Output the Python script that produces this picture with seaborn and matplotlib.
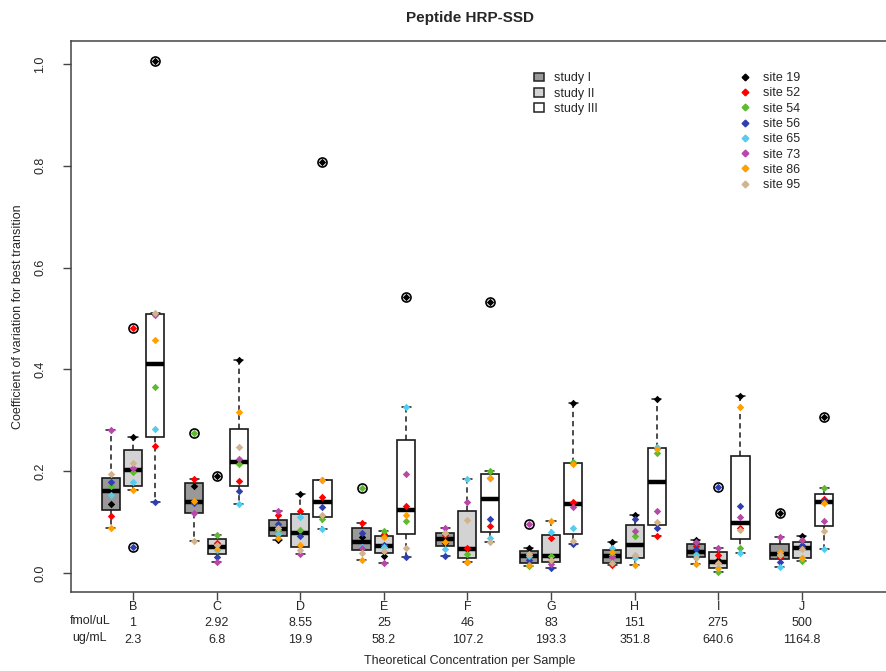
import numpy as np
import pandas as pd
import matplotlib
matplotlib.use("Agg")
import matplotlib as mpl
import matplotlib.pyplot as plt
from matplotlib.patches import Patch
from matplotlib.lines import Line2D
import seaborn as sns

# ---------------- data ----------------
groups = ["B", "C", "D", "E", "F", "G", "H", "I", "J"]
fmol_ul = ["1", "2.92", "8.55", "25", "46", "83", "151", "275", "500"]
ug_ml = ["2.3", "6.8", "19.9", "58.2", "107.2", "193.3", "351.8", "640.6", "1164.8"]
studies = ["study I", "study II", "study III"]
sites = ["site 19", "site 52", "site 54", "site 56", "site 65", "site 73", "site 86", "site 95"]
site_colors = ["#000000", "#FF0000", "#5DBB2F", "#2F3FAF", "#55CCEE", "#B848A8", "#FF9F00", "#D2B48C"]
study_fill = ["#999999", "#D3D3D3", "#FFFFFF"]

# CV per group (rows B..J) and site (columns 19,52,54,56,65,73,86,95)
cv_study_I = [
    [0.136, 0.112, 0.171, 0.179, 0.153, 0.281, 0.088, 0.195],
    [0.1715, 0.184, 0.2745, 0.137, 0.1185, 0.117, 0.142, 0.0635],
    [0.065, 0.114, 0.0845, 0.096, 0.076, 0.122, 0.068, 0.089],
    [0.070, 0.0976, 0.1664, 0.078, 0.0517, 0.0485, 0.0255, 0.040],
    [0.059, 0.0747, 0.078, 0.0334, 0.0465, 0.0878, 0.060, 0.078],
    [0.0485, 0.0327, 0.014, 0.0255, 0.0334, 0.0963, 0.015, 0.038],
    [0.0615, 0.0157, 0.0354, 0.019, 0.0485, 0.031, 0.042, 0.0203],
    [0.065, 0.053, 0.037, 0.0465, 0.0354, 0.0615, 0.0177, 0.0288],
    [0.1185, 0.032, 0.038, 0.0222, 0.0124, 0.070, 0.042, 0.0354],
]
cv_study_II = [
    [0.267, 0.481, 0.199, 0.052, 0.179, 0.206, 0.163, 0.217],
    [0.1906, 0.0596, 0.0747, 0.031, 0.045, 0.022, 0.0465, 0.055],
    [0.1545, 0.122, 0.0845, 0.0735, 0.1107, 0.0373, 0.055, 0.046],
    [0.0334, 0.0766, 0.083, 0.055, 0.0517, 0.020, 0.070, 0.044],
    [0.0465, 0.0497, 0.0373, 0.021, 0.184, 0.139, 0.021, 0.104],
    [0.032, 0.068, 0.034, 0.0092, 0.080, 0.017, 0.102, 0.0255],
    [0.114, 0.031, 0.0727, 0.106, 0.0288, 0.0825, 0.0157, 0.0354],
    [0.025, 0.0354, 0.0026, 0.1696, 0.0104, 0.0485, 0.0104, 0.0196],
    [0.0727, 0.0517, 0.0242, 0.055, 0.0288, 0.065, 0.0288, 0.0465],
]
cv_study_III = [
    [1.005, 0.250, 0.365, 0.140, 0.283, 0.507, 0.457, 0.511],
    [0.4185, 0.181, 0.2135, 0.161, 0.1356, 0.223, 0.317, 0.248],
    [0.8075, 0.1487, 0.1055, 0.129, 0.0858, 0.1827, 0.1827, 0.114],
    [0.542, 0.1316, 0.1028, 0.031, 0.3268, 0.194, 0.114, 0.0485],
    [0.533, 0.093, 0.2004, 0.106, 0.0694, 0.187, 0.186, 0.060],
    [0.3346, 0.140, 0.2175, 0.057, 0.0878, 0.130, 0.2135, 0.0635],
    [0.342, 0.0733, 0.235, 0.089, 0.248, 0.1218, 0.2436, 0.101],
    [0.3484, 0.089, 0.0497, 0.132, 0.040, 0.1094, 0.3268, 0.0845],
    [0.307, 0.1454, 0.1664, 0.142, 0.0465, 0.1028, 0.137, 0.083],
]

rows = []
for study, table in zip(studies, [cv_study_I, cv_study_II, cv_study_III]):
    for g, vals in zip(groups, table):
        for s, v in zip(sites, vals):
            rows.append({"group": g, "study": study, "site": s, "cv": v})
df = pd.DataFrame(rows)

# R-style boxplot statistics (Tukey hinges via fivenum)
_orig_bps = mpl.cbook.boxplot_stats


def tukey_boxplot_stats(X, whis=1.5, bootstrap=None, labels=None, autorange=False):
    stats = _orig_bps(X, whis=whis, bootstrap=bootstrap, labels=labels, autorange=autorange)
    arrays = [X] if np.ndim(X[0]) == 0 else X
    for st, x in zip(stats, arrays):
        x = np.sort(np.asarray(x, float))
        x = x[np.isfinite(x)]
        n = len(x)
        n4 = np.floor((n + 3) / 2) / 2
        d = np.array([1, n4, (n + 1) / 2, n + 1 - n4, n]) - 1
        fn = 0.5 * (x[np.floor(d).astype(int)] + x[np.ceil(d).astype(int)])
        q1, med, q3 = fn[1], fn[2], fn[3]
        iqr = q3 - q1
        lo, hi = q1 - whis * iqr, q3 + whis * iqr
        inside = x[(x >= lo) & (x <= hi)]
        st.update(q1=q1, med=med, q3=q3, iqr=iqr, whislo=inside.min(),
                  whishi=inside.max(), fliers=x[(x < lo) | (x > hi)])
    return stats


mpl.cbook.boxplot_stats = tukey_boxplot_stats

# ---------------- figure ----------------
sns.set_theme(style="white")
plt.rcParams["font.family"] = ["Liberation Sans", "DejaVu Sans"]

W, H = 887, 671
fig = plt.figure(figsize=(W / 100, H / 100), dpi=100)
ax_left, ax_right, ax_top, ax_bottom = 71, 905, 41, 592
ax = fig.add_axes([ax_left / W, 1 - ax_bottom / H, (ax_right - ax_left) / W, (ax_bottom - ax_top) / H])

line_c = "#1a1a1a"
sns.boxplot(data=df, x="group", y="cv", hue="study", order=groups, hue_order=studies,
            palette=dict(zip(studies, study_fill)), saturation=1, width=0.8, gap=0.19,
            linecolor=line_c, linewidth=1.2, legend=False, ax=ax,
            whiskerprops={"linestyle": (0, (3.5, 2.5)), "linewidth": 1.1},
            capprops={"linewidth": 1.1},
            medianprops={"linewidth": 3.2, "color": "black", "solid_capstyle": "butt"},
            flierprops={"marker": "o", "markerfacecolor": "none", "markeredgecolor": "black",
                        "markersize": 6.5, "markeredgewidth": 1.2})

np.random.seed(7)
for s, c in zip(sites, site_colors):
    sns.stripplot(data=df[df["site"] == s], x="group", y="cv", hue="study", order=groups,
                  hue_order=studies, palette={st: c for st in studies}, dodge=True,
                  jitter=0.26, size=3.8, marker="D", linewidth=0, legend=False, ax=ax, zorder=4)

x_lo = (ax_left - 133) / 83.6
x_hi = (ax_right - 133) / 83.6
ax.set_xlim(x_lo, x_hi)
ax.set_ylim((573 - ax_bottom) / 509, (573 - ax_top) / 509)

yt = [0.0, 0.2, 0.4, 0.6, 0.8, 1.0]
ax.set_yticks(yt)
ax.set_yticklabels([f"{v:.1f}" for v in yt], rotation=90, va="center", fontsize=9)
ax.set_xticks(range(len(groups)))
ax.set_xticklabels([f"{g}\n{f}\n{u}" for g, f, u in zip(groups, fmol_ul, ug_ml)],
                   fontsize=9, linespacing=1.52)
ax.tick_params(axis="both", direction="out", length=5.8, width=1.0, color="#444444",
               bottom=True, left=True)
ax.tick_params(axis="y", pad=12)
ax.tick_params(axis="x", pad=0.5)
for sp in ax.spines.values():
    sp.set_visible(True)
    sp.set_color("#444444")
    sp.set_linewidth(1.1)

ax.set_xlabel("Theoretical Concentration per Sample", fontsize=9)
ax.xaxis.set_label_coords((470 - ax_left) / (ax_right - ax_left), (ax_bottom - 655) / (ax_bottom - ax_top))
ax.set_ylabel("Coefficient of variation for best transition", fontsize=9)
ax.yaxis.set_label_coords((24 - ax_left) / (ax_right - ax_left), 0.5)

fig.text(90 / W, 1 - 621 / H, "fmol/uL", ha="center", va="center", fontsize=9)
fig.text(90 / W, 1 - 638 / H, "ug/mL", ha="center", va="center", fontsize=9)
fig.text(470 / W, 1 - 18 / H, "Peptide HRP-SSD", ha="center", va="center",
         fontsize=11, fontweight="bold")

study_handles = [Patch(facecolor=f, edgecolor="#222222", linewidth=1.1, label=s)
                 for f, s in zip(study_fill, studies)]
leg1 = ax.legend(handles=study_handles, loc="upper left", bbox_to_anchor=(528 / W, 1 - 66 / H),
                 bbox_transform=fig.transFigure, frameon=False, fontsize=9, borderpad=0,
                 handlelength=0.8, handleheight=0.7, handletextpad=0.8, labelspacing=0.26)
ax.add_artist(leg1)
site_handles = [Line2D([], [], marker="D", ls="", color=c, markersize=3.4, label=s)
                for c, s in zip(site_colors, sites)]
ax.legend(handles=site_handles, loc="upper left", bbox_to_anchor=(733 / W, 1 - 66 / H),
          bbox_transform=fig.transFigure, frameon=False, fontsize=9, borderpad=0,
          handlelength=1.0, handletextpad=0.9, labelspacing=0.26)

fig.savefig("out.png", dpi=100)
